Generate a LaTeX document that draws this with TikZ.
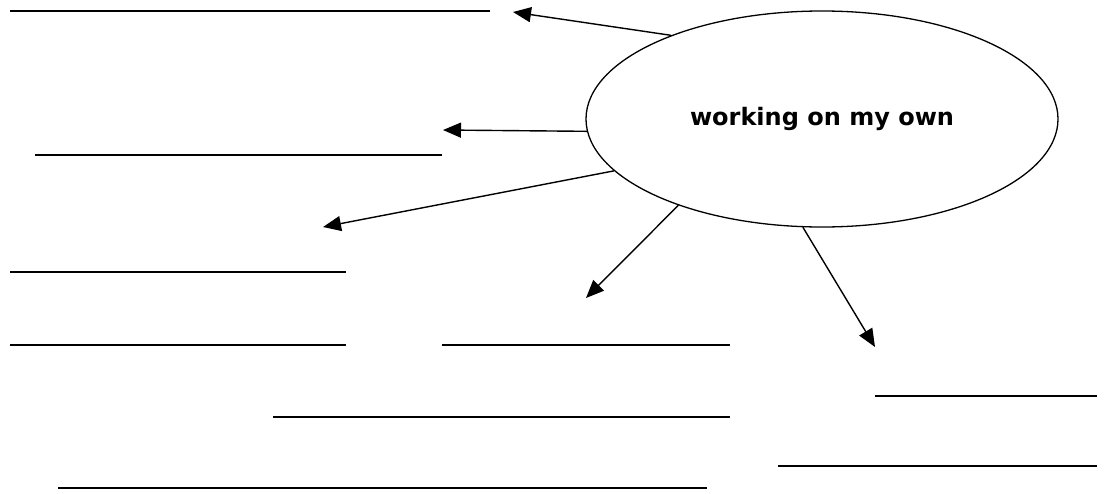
\documentclass[tikz,border=0pt]{standalone}
\usepackage{fontspec}
\usepackage{tikz}
\usetikzlibrary{arrows.meta,shapes.geometric}
\newfontfamily\topicfont{DejaVu Sans}
\tikzset{
	topic/.style={draw, ellipse, line width=1.3pt, inner sep=0pt,
		minimum width=472pt, minimum height=216pt,
		font=\topicfont\bfseries\fontsize{24}{28}\selectfont},
	blank/.style={line width=2pt},
	arrow/.style={-{Triangle[length=18pt,width=15pt]}, line width=1.4pt}
}
\begin{document}
\begin{tikzpicture}[x=1pt, y=-1pt]
	\useasboundingbox (0,0) rectangle (1108,493);
	
	%% -- Central bubble
	\node[topic] (own) at (822,119) {working on my own};
	
	%% -- Arrow ends, around the bubble
	\coordinate (t1) at (513,12);
	\coordinate (t2) at (443,130);
	\coordinate (t3) at (323,227);
	\coordinate (t4) at (586,298);
	\coordinate (t5) at (875,347);
	
	\draw[arrow] (own.151) -- (t1);
	\draw[arrow] (own.183) -- (t2);
	\draw[arrow] (own.194) -- (t3);
	\draw[arrow] (own.211) -- (t4);
	\draw[arrow] (own.260) -- (t5);
	
	%% -- Lines to write on
	\draw[blank] (10,11)  -- (490,11);
	\draw[blank] (35,155) -- (442,155);
	\draw[blank] (10,272) -- (346,272);
	\draw[blank] (10,345) -- (346,345);
	\draw[blank] (442,345) -- (730,345);
	\draw[blank] (875,396) -- (1097,396);
	\draw[blank] (273,417) -- (730,417);
	\draw[blank] (778,466) -- (1097,466);
	\draw[blank] (58,488) -- (707,488);
	
\end{tikzpicture}
\end{document}
